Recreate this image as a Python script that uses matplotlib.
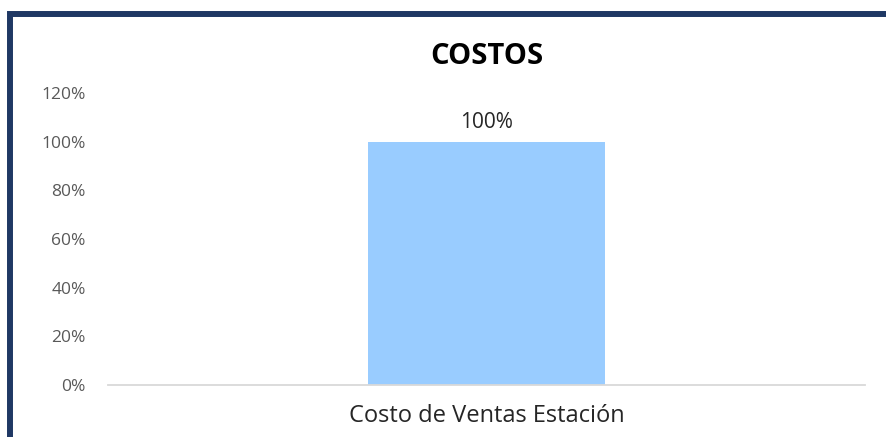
import matplotlib.pyplot as plt
from matplotlib.patches import Rectangle
from matplotlib.ticker import PercentFormatter

# data
categorias = ["Costo de Ventas Estación"]
valores = [1.00]
etiquetas = ["100%"]
yticks = [0, 0.2, 0.4, 0.6, 0.8, 1.0, 1.2]

plt.rcParams['font.family'] = ['Open Sans', 'DejaVu Sans']

fig = plt.figure(figsize=(8.86, 4.37), dpi=100)
ax = fig.add_axes([0.1219, 0.119, 0.8544, 0.668])

bars = ax.bar(range(len(categorias)), valores, width=0.313, color='#99CCFF', zorder=2)
for b, lab in zip(bars, etiquetas):
    ax.text(b.get_x() + b.get_width() / 2, b.get_height() + 0.035, lab,
            ha='center', va='bottom', fontsize=15, color='#262626')

ax.set_xlim(-0.5, 0.5)
ax.set_ylim(0, 1.2)
ax.set_yticks(yticks)
ax.yaxis.set_major_formatter(PercentFormatter(1.0, decimals=0))
ax.set_xticks(range(len(categorias)))
ax.set_xticklabels(categorias, fontsize=17, color='#262626')

ax.tick_params(axis='y', length=0, pad=16, labelsize=12.5, labelcolor='#595959')
ax.tick_params(axis='x', length=0, pad=14)
for s in ['top', 'right', 'left']:
    ax.spines[s].set_visible(False)
ax.spines['bottom'].set_color('#D9D9D9')
ax.spines['bottom'].set_linewidth(1.3)

fig.text(0.549, 0.870, "COSTOS", ha='center', va='center', fontsize=21,
         fontweight='bold', color='black')

# navy frame (top and left edges)
fig.add_artist(Rectangle((10 / 886, -0.1), 1.2, 1.1 - 13.5 / 437, transform=fig.transFigure,
                         fill=False, edgecolor='#1F3864', linewidth=4.3))

fig.savefig("out.png", dpi=100)
